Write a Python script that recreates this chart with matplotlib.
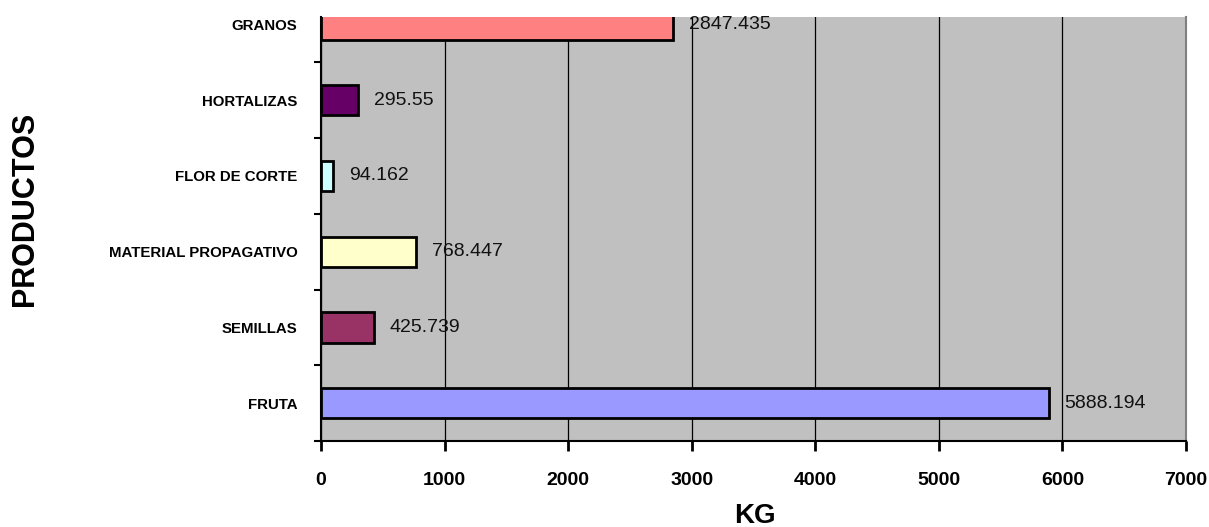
import matplotlib.pyplot as plot
from matplotlib.ticker import MultipleLocator, FixedLocator

productos = ['FRUTA', 'SEMILLAS', 'MATERIAL PROPAGATIVO', 'FLOR DE CORTE', 'HORTALIZAS', 'GRANOS']
kg = [5888.194, 425.739, 768.447, 94.162, 295.55, 2847.435]
etiquetas = ['5888.194', '425.739', '768.447', '94.162', '295.55', '2847.435']
colores = ['#9999FF', '#993366', '#FFFFCC', '#CCFFFF', '#660066', '#FF8080']

plot.rcParams['font.family'] = ['Liberation Sans', 'DejaVu Sans']

figure = plot.figure(figsize=(12.09, 5.27), dpi=100)
axes = figure.add_axes([321/1209, 1 - 441/527, (1186 - 321)/1209, (441 - 17)/527])
axes.set_facecolor('#C0C0C0')

posiciones = list(range(len(productos)))
axes.barh(posiciones, kg, height=0.4, color=colores, edgecolor='black', linewidth=2, zorder=3)

# value labels to the right of each bar
for pos, valor, texto in zip(posiciones, kg, etiquetas):
    axes.annotate(texto, (valor, pos), xytext=(16, 0), textcoords='offset pixels',
                  va='center', ha='left', fontsize=14, color='#111111', zorder=4, annotation_clip=False)

axes.set_xlim(0, 7000)
axes.set_ylim(-0.5, 5.1)
axes.xaxis.set_major_locator(MultipleLocator(1000))
axes.grid(axis='x', color='black', linewidth=0.9, zorder=1)
axes.set_axisbelow(True)

axes.set_yticks(posiciones)
axes.set_yticklabels(productos, fontsize=10.8, fontweight='bold')
axes.yaxis.set_minor_locator(FixedLocator([p - 0.5 for p in posiciones]))
axes.tick_params(axis='y', which='major', length=0, pad=17)
axes.tick_params(axis='y', which='minor', length=5, width=1.5, direction='out')
axes.tick_params(axis='x', which='major', length=7, width=2, direction='out', pad=15, labelsize=14)
for lab in axes.get_xticklabels():
    lab.set_fontweight('bold')

axes.spines['left'].set_linewidth(1.5)
axes.spines['bottom'].set_linewidth(1.5)
axes.spines['top'].set_visible(False)
axes.spines['right'].set_color('#808080')
axes.spines['right'].set_linewidth(1.5)

figure.text(755/1209, 1 - 503/527, 'KG', fontsize=20, fontweight='bold', ha='center', va='top')
figure.text(25/1209, 1 - 209/527, 'PRODUCTOS', fontsize=22, fontweight='bold', rotation=90,
            ha='center', va='center')

plot.savefig('out.png', dpi=100)
